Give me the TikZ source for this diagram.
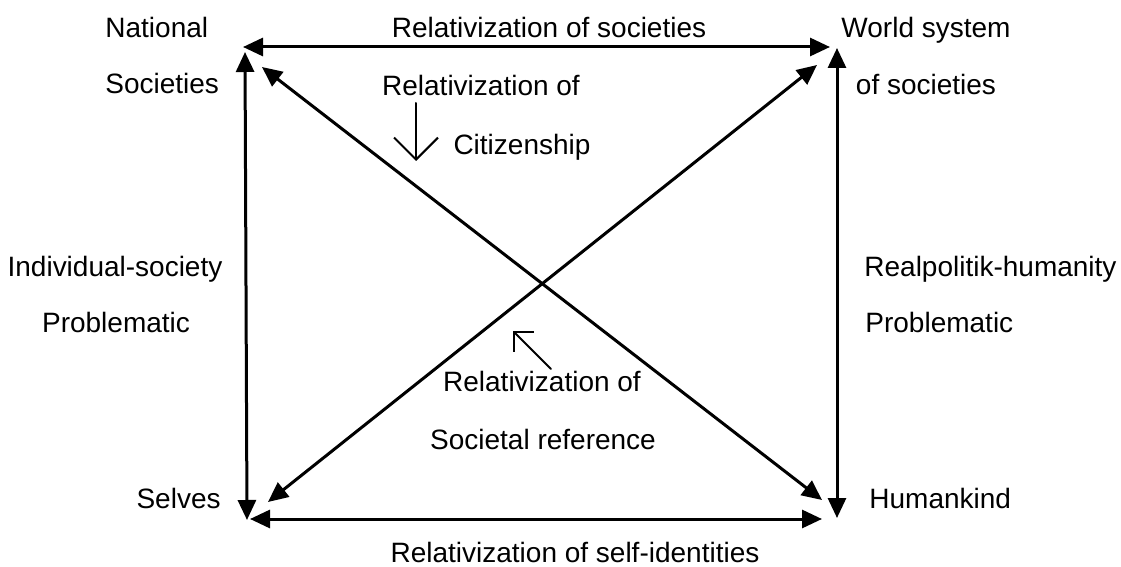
\documentclass[tikz,border=0pt]{standalone}
\usepackage{fontspec}
\setmainfont{Liberation Sans}
\usetikzlibrary{arrows.meta}

\begin{document}
\begin{tikzpicture}[line cap=round,line join=round,>={Triangle[length=10pt,width=9pt]},x=0.5pt,y=-0.5pt,
	txt/.style={inner sep=0pt,font=\fontsize{14pt}{16pt}\selectfont},
	big/.style={line width=1.5pt},
	small/.style={line width=1pt}]

		\useasboundingbox (0,0) rectangle (1121,567);

		%kulmat:
		\node[txt,anchor=base west] (national) at (105,38) {National};
		\node[txt,anchor=base west] (societies) at (105,94) {Societies};
		\node[txt,anchor=base] (world) at (926,38) {World system};
		\node[txt,anchor=base] (ofsoc) at (926,95) {of societies};
		\node[txt,anchor=base east] (selves) at (221,508) {Selves};
		\node[txt,anchor=base west] (humankind) at (869,508) {Humankind};

		%sivut
		\node[txt,anchor=base] (relsoc) at (549,38) {Relativization of societies};
		\node[txt,anchor=base] (relself) at (575,562) {Relativization of self-identities};
		\node[txt,anchor=base] (indsoc) at (115,277) {Individual-society};
		\node[txt,anchor=base] (probl) at (116,333) {Problematic};
		\node[txt,anchor=base west] (realpol) at (864,277) {Realpolitik-humanity};
		\node[txt,anchor=base west] (probr) at (865,333) {Problematic};

		%keskella
		\node[txt,anchor=base] (relcit) at (481,96) {Relativization of};
		\node[txt,anchor=base] (citizen) at (522,155) {Citizenship};
		\node[txt,anchor=base] (relref) at (542,392) {Relativization of};
		\node[txt,anchor=base] (societal) at (543,450) {Societal reference};

		% nuolten paat
		\coordinate (nwh) at (243,47);
		\coordinate (neh) at (830,47);
		\coordinate (nwv) at (245,52);
		\coordinate (swv) at (247,520);
		\coordinate (swh) at (250,519);
		\coordinate (seh) at (822,519);
		\coordinate (nev) at (837,48);
		\coordinate (sev) at (837,518);
		\coordinate (nwd) at (262,67);
		\coordinate (sed) at (822,500);
		\coordinate (swd) at (268,502);
		\coordinate (ned) at (817,65);

		% Varsinainen kuva
		\draw[big,<->] (nwh)--(neh);
		\draw[big,<->] (swh)--(seh);
		\draw[big,<->] (nwv)--(swv);
		\draw[big,<->] (nev)--(sev);
		\draw[big,<->] (nwd)--(sed);
		\draw[big,<->] (swd)--(ned);

		% pienet nuolet
		\coordinate (cittop) at (416,103);
		\coordinate (citend) at (416,161);
		\draw[small,-{Straight Barb[length=11pt,width=22pt]}] (cittop)--(citend);

		\coordinate (refstart) at (551,369);
		\coordinate (refend) at (513,331);
		\draw[small,-{Straight Barb[length=7pt,width=14pt]}] (refstart)--(refend);

	\end{tikzpicture}
\end{document}
